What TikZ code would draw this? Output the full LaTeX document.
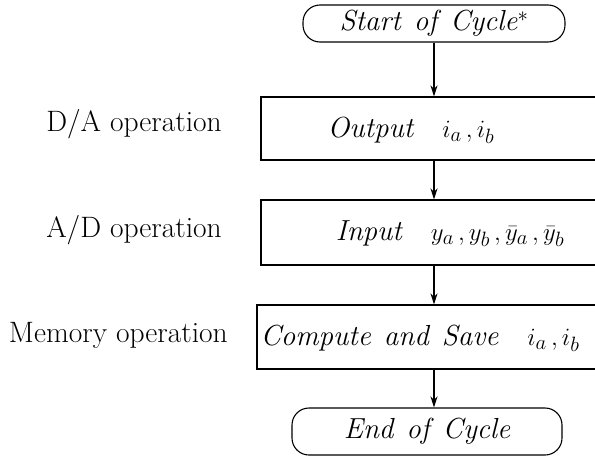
\documentclass[tikz,border=0pt]{standalone}
\usepackage{amsmath,amssymb}
\usetikzlibrary{arrows.meta}
\tikzset{
  termbox/.style={rectangle, rounded corners=17pt, draw=black, line width=1.1pt,
                  inner sep=0pt, font=\fontsize{29}{34}\selectfont\itshape},
  stepbox/.style={rectangle, draw=black, line width=1.1pt, inner sep=0pt},
  steptext/.style={inner sep=0pt, font=\fontsize{29}{34}\selectfont\itshape},
  optext/.style={anchor=east, inner sep=0pt, font=\fontsize{29.5}{34}\selectfont},
  flow/.style={-{Stealth[length=11pt, width=7pt]}, line width=1.1pt},
}
\newcommand{\wsp}{\hspace{0.45em}}

\begin{document}
\begin{tikzpicture}[x=1pt, y=-1pt]
  \useasboundingbox (0,0) rectangle (595,461);
  % terminals
  \node[termbox, minimum width=262pt, minimum height=37pt] (start) at (434,23.5)
    {Start\wsp of\wsp Cycle$^{*}$};
  \node[termbox, minimum width=270pt, minimum height=47pt] (stop) at (427,431.5)
    {End\wsp of\wsp Cycle};
  % steps, open to the right
  \node[stepbox, minimum width=349pt, minimum height=63pt] (out) at (435.5,128.5) {};
  \node[stepbox, minimum width=349pt, minimum height=65pt] (inp) at (435.5,232.5) {};
  \node[stepbox, minimum width=353pt, minimum height=64pt] (comp) at (433.5,337) {};
  \node[steptext] (outtxt) at (411,130) {Output\quad $i_a\,, i_b$};
  \node[steptext] (inptxt) at (450,234) {Input\quad $y_a\,, y_b\,, \bar{y}_a\,, \bar{y}_b$};
  \node[steptext] (comptxt) at (420,338) {Compute\wsp and\wsp Save\quad $i_a\,, i_b$};
  % operation labels
  \node[optext] (da) at (222,124) {D/A operation};
  \node[optext] (ad) at (222,230) {A/D operation};
  \node[optext] (mem) at (228,335) {Memory operation};
  % arrows
  \draw[flow] (start.south) -- (start.south |- out.north);
  \draw[flow] (start.south |- out.south) -- (start.south |- inp.north);
  \draw[flow] (start.south |- inp.south) -- (start.south |- comp.north);
  \draw[flow] (start.south |- comp.south) -- (start.south |- stop.north);
\end{tikzpicture}
\end{document}
